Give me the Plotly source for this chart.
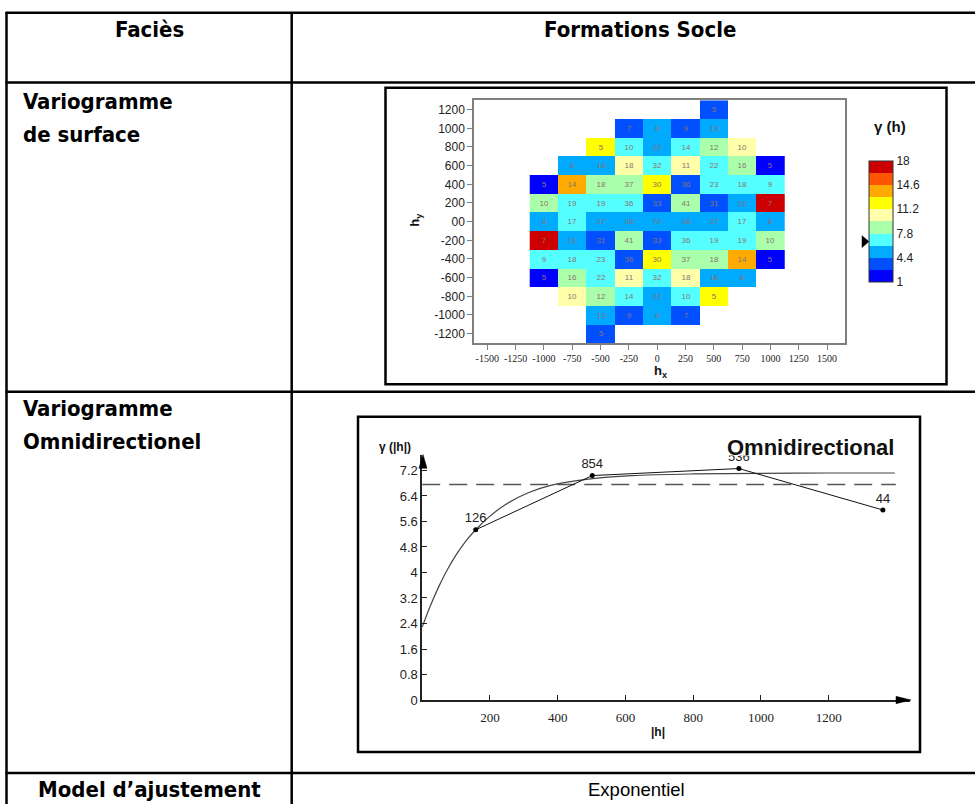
import plotly.graph_objects as go

W, H = 975, 812


def px(x):
    return x / W


def py(y):
    return 1 - y / H


# ---------------- variogram map (surface) ----------------
lag_x = [-1000, -750, -500, -250, 0, 250, 500, 750, 1000]
lag_y = [1200, 1000, 800, 600, 400, 200, 0, -200, -400, -600, -800, -1000, -1200]
map_xticks = [-1500, -1250, -1000, -750, -500, -250, 0, 250, 500, 750, 1000, 1250, 1500]
map_yticks = [1200, 1000, 800, 600, 400, 200, 0, -200, -400, -600, -800, -1000, -1200]
map_yticktext = ["1200", "1000", "800", "600", "400", "200", "00", "-200", "-400",
                 "-600", "-800", "-1000", "-1200"]

N = None
gamma_map = [
    [N, N, N, N, N, N, 3.5, N, N],
    [N, N, N, 3.3, 5.0, 3.8, 5.4, N, N],
    [N, N, 12.1, 6.6, 5.6, 7.1, 8.9, 10.4, N],
    [N, 5.2, 5.7, 10.1, 7.3, 10.6, 6.9, 8.4, 2.0],
    [2.3, 13.9, 8.7, 8.2, 11.8, 4.1, 7.0, 6.5, 7.4],
    [9.0, 6.8, 7.2, 6.9, 3.9, 8.3, 4.2, 5.8, 17.3],
    [5.1, 6.6, 5.9, 5.5, 5.0, 5.5, 5.9, 6.6, 5.1],
    [17.3, 5.8, 4.2, 8.3, 3.9, 6.9, 7.2, 6.8, 9.0],
    [7.4, 6.5, 7.0, 4.1, 11.8, 8.2, 8.7, 13.9, 2.3],
    [2.0, 8.4, 6.9, 10.6, 7.3, 10.1, 5.7, 5.2, N],
    [N, 10.4, 8.9, 7.1, 5.6, 6.6, 12.1, N, N],
    [N, N, 5.4, 3.8, 5.0, 3.3, N, N, N],
    [N, N, 3.5, N, N, N, N, N, N],
]

pairs_map = [
    [N, N, N, N, N, N, 5, N, N],
    [N, N, N, 7, 8, 9, 13, N, N],
    [N, N, 5, 10, 22, 14, 12, 10, N],
    [N, 6, 16, 18, 32, 11, 22, 16, 5],
    [5, 14, 18, 37, 30, 36, 23, 18, 9],
    [10, 19, 19, 36, 33, 41, 31, 21, 7],
    [8, 17, 27, 28, 72, 28, 27, 17, 8],
    [7, 21, 31, 41, 33, 36, 19, 19, 10],
    [9, 18, 23, 36, 30, 37, 18, 14, 5],
    [5, 16, 22, 11, 32, 18, 16, 6, N],
    [N, 10, 12, 14, 22, 10, 5, N, N],
    [N, N, 13, 9, 8, 7, N, N, N],
    [N, N, 5, N, N, N, N, N, N],
]

band_colors = ["#0000ff", "#0050ff", "#00aaff", "#55ffff", "#aaffaa",
               "#ffffaa", "#ffff00", "#ffaa00", "#ff5500", "#cc0000"]
cbar_ticks = [1, 4.4, 7.8, 11.2, 14.6, 18]
gamma_min, gamma_max = 1, 18

colorscale = []
nb = len(band_colors)
for i, c in enumerate(band_colors):
    colorscale.append([i / nb, c])
    colorscale.append([(i + 1) / nb, c])

pair_text = [[" " if v is None else str(v) for v in row] for row in pairs_map]

# ---------------- omnidirectional variogram ----------------
h_exp = [158, 502, 935, 1360]
g_exp = [5.34, 7.04, 7.26, 5.96]
n_pairs = ["126", "854", "536", "44"]

# fitted exponential model
h_model = [0, 25, 50, 75, 100, 130, 158, 195, 244, 313, 382, 490, 620, 800, 1000, 1200, 1395]
g_model = [2.29, 2.98, 3.58, 4.10, 4.55, 5.00, 5.34, 5.72, 6.12, 6.50, 6.74, 6.93, 7.04,
           7.09, 7.11, 7.12, 7.12]

variance = 6.76
variance_h = [0, 1398]

omni_xticks = [200, 400, 600, 800, 1000, 1200]
omni_yticks = [0, 0.8, 1.6, 2.4, 3.2, 4, 4.8, 5.6, 6.4, 7.2]
omni_yticktext = ["0", "0.8", "1.6", "2.4", "3.2", "4", "4.8", "5.6", "6.4", "7.2"]

fig = go.Figure()

fig.add_trace(go.Heatmap(
    x=lag_x, y=lag_y, z=gamma_map, text=pair_text,
    texttemplate="%{text}",
    textfont=dict(family="Liberation Sans", size=8, color="#8a7272"),
    colorscale=colorscale, zmin=gamma_min, zmax=gamma_max,
    hoverongaps=False,
    colorbar=dict(
        x=px(869), xanchor="left", xpad=0,
        y=py(223.5), yanchor="middle", ypad=0,
        len=121, lenmode="pixels", thickness=24, thicknessmode="pixels",
        outlinewidth=1, outlinecolor="#333333",
        tickvals=cbar_ticks, ticktext=[str(t) for t in cbar_ticks],
        ticks="", tickfont=dict(family="Liberation Sans", size=12, color="#222222"),
    ),
    xaxis="x", yaxis="y",
))

fig.add_trace(go.Scatter(
    x=variance_h, y=[variance, variance], mode="lines",
    line=dict(color="#555555", width=1.5, dash="18px,9px"),
    xaxis="x2", yaxis="y2", showlegend=False, hoverinfo="skip",
))
fig.add_trace(go.Scatter(
    x=h_model, y=g_model, mode="lines",
    line=dict(color="#444444", width=1.2, shape="spline", smoothing=0.8),
    xaxis="x2", yaxis="y2", showlegend=False,
))
fig.add_trace(go.Scatter(
    x=h_exp, y=g_exp, mode="lines+markers+text", text=n_pairs,
    textposition="top center",
    textfont=dict(family="Liberation Sans", size=13, color="#222222"),
    line=dict(color="#111111", width=1),
    marker=dict(color="#000000", size=5),
    xaxis="x2", yaxis="y2", showlegend=False,
))

axis_grey = "#7f7f7f"
fig.update_layout(
    width=W, height=H,
    margin=dict(l=0, r=0, t=0, b=0),
    paper_bgcolor="white", plot_bgcolor="white",
    showlegend=False,
    xaxis=dict(
        domain=[px(474), px(845)], range=[-1617, 1658], anchor="y",
        tickvals=map_xticks, ticktext=[str(t) for t in map_xticks],
        ticks="outside", ticklen=5, tickcolor=axis_grey,
        showline=True, mirror=True, linecolor=axis_grey, linewidth=1.5,
        showgrid=False, zeroline=False,
        tickfont=dict(family="Liberation Serif", size=10, color="#222222"),
    ),
    yaxis=dict(
        domain=[py(346.4), py(101.3)], range=[-1300, 1300], anchor="x",
        tickvals=map_yticks, ticktext=map_yticktext,
        ticks="outside", ticklen=5, tickcolor=axis_grey,
        showline=True, mirror=True, linecolor=axis_grey, linewidth=1.5,
        showgrid=False, zeroline=False,
        tickfont=dict(family="Liberation Sans", size=12, color="#222222"),
    ),
    xaxis2=dict(
        domain=[px(422.2), px(910)], range=[0, 1440], anchor="y2",
        tickvals=omni_xticks, ticktext=[str(t) for t in omni_xticks],
        ticks="inside", ticklen=5, tickcolor="#222222", tickwidth=1.2,
        ticklabelstandoff=5,
        showline=True, linecolor="#222222", linewidth=1.5,
        showgrid=False, zeroline=False,
        tickfont=dict(family="Liberation Serif", size=13, color="#222222"),
    ),
    yaxis2=dict(
        domain=[py(707), py(460)], range=[0, 7.67], anchor="x2",
        tickvals=omni_yticks, ticktext=omni_yticktext,
        ticks="inside", ticklen=5, tickcolor="#222222", tickwidth=1.2,
        showline=True, linecolor="#222222", linewidth=1.5,
        showgrid=False, zeroline=False,
        tickfont=dict(family="Liberation Sans", size=13, color="#222222"),
    ),
)

shapes = []
# table rules
rule = dict(color="black", width=2.5)
for y in [13, 83.3, 395.7, 780.7]:
    shapes.append(dict(type="line", xref="paper", yref="paper",
                       x0=px(5.5), x1=px(975), y0=py(y), y1=py(y), line=rule))
for x in [6.5, 291.7]:
    shapes.append(dict(type="line", xref="paper", yref="paper",
                       x0=px(x), x1=px(x), y0=py(12), y1=py(812), line=rule))
# chart frames
shapes.append(dict(type="rect", xref="paper", yref="paper",
                   x0=px(385.5), x1=px(946.5), y0=py(388), y1=py(88.5),
                   line=dict(color="black", width=2.5)))
shapes.append(dict(type="rect", xref="paper", yref="paper",
                   x0=px(358), x1=px(920), y0=py(759.5), y1=py(421),
                   line=dict(color="black", width=2.5)))


def tri(points):
    p = "M " + " L ".join(f"{px(a)},{py(b)}" for a, b in points) + " Z"
    return dict(type="path", xref="paper", yref="paper", path=p,
                fillcolor="black", line=dict(color="black", width=0.5))


# axis arrowheads
shapes.append(tri([(423, 459), (419, 473), (427, 473)]))
shapes.append(tri([(911, 707), (896, 703.3), (896, 710.7)]))
# marker beside colour bar
shapes.append(tri([(869, 244), (862, 238), (862, 250)]))

fig.update_layout(shapes=shapes)

head_font = "DejaVu Sans Condensed, DejaVu Sans, sans-serif"
ann = []


def text(x, y, s, size, family, bold=False, xanchor="center", color="black", angle=0):
    ann.append(dict(x=px(x), y=py(y), xref="paper", yref="paper", text=s,
                    showarrow=False, xanchor=xanchor, yanchor="middle",
                    textangle=angle,
                    font=dict(family=family, size=size, color=color,
                              weight="bold" if bold else "normal")))


text(149.5, 30, "Faciès", 22, head_font, bold=True)
text(640, 30, "Formations Socle", 22, head_font, bold=True)
text(21, 103, "Variogramme", 22, head_font, bold=True, xanchor="left")
text(21, 136, "de surface", 22, head_font, bold=True, xanchor="left")
text(21, 413, "Variogramme", 22, head_font, bold=True, xanchor="left")
text(21, 446, "Omnidirectionel", 22, head_font, bold=True, xanchor="left")
text(149, 797, "Model d’ajustement", 22, head_font, bold=True)
text(636, 797, "Exponentiel", 18.5, "Liberation Sans, sans-serif")

text(890, 128, "γ (h)", 15, "Liberation Sans", bold=True, color="#111111")
text(416, 222, "h<sub>y</sub>", 13, "Liberation Sans", bold=True, angle=-90, color="#111111")
text(660, 375, "h<sub>x</sub>", 13, "Liberation Sans", bold=True, color="#111111")

text(896, 452, "Omnidirectional", 22, "Liberation Sans", bold=True, xanchor="right",
     color="#111111")
text(395, 451, "γ (|h|)", 12, "Liberation Sans", bold=True, color="#111111")
text(658, 739, "|h|", 12, "Liberation Sans", bold=True, color="#111111")

fig.update_layout(annotations=ann)

fig.write_html("out.html")
